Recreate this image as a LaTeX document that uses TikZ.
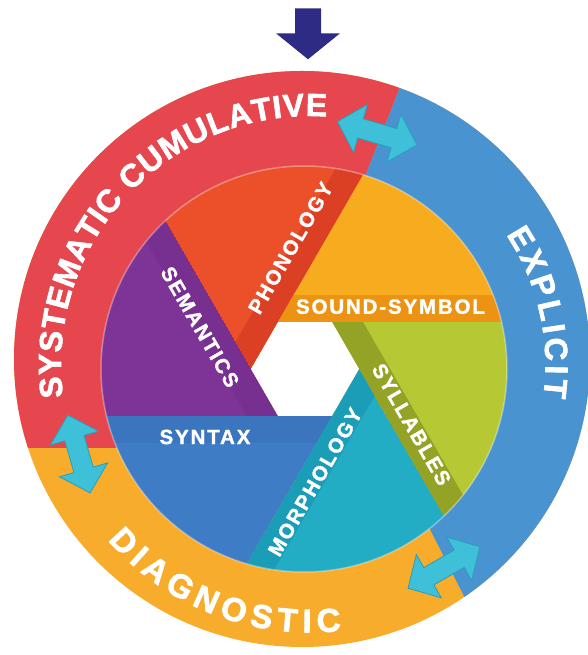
\documentclass[tikz,border=0pt]{standalone}
\usepackage{fontspec}
\newfontfamily\lblfamily{Liberation Sans Bold}[LetterSpace=9, FakeBold=1.5]
\newfontfamily\ringfamily{Liberation Sans Bold}[FakeBold=2]
\usetikzlibrary{calc,decorations.text}
\definecolor{ringred}{HTML}{E6474F}
\definecolor{ringblue}{HTML}{4A93D1}
\definecolor{ringorange}{HTML}{F8AC2C}
\definecolor{phon}{HTML}{EC502B}
\definecolor{phonD}{HTML}{DC4024}
\definecolor{sound}{HTML}{F7AC1F}
\definecolor{soundD}{HTML}{EC9313}
\definecolor{syll}{HTML}{B6C935}
\definecolor{syllD}{HTML}{94A326}
\definecolor{morph}{HTML}{22ADC5}
\definecolor{morphD}{HTML}{1C9DB7}
\definecolor{synt}{HTML}{3E7CC5}
\definecolor{syntD}{HTML}{3A75BD}
\definecolor{sem}{HTML}{7D3496}
\definecolor{semD}{HTML}{772F90}
\definecolor{navy}{HTML}{2D2B84}
\definecolor{cyanarr}{HTML}{3EC0D8}
\definecolor{cyanedge}{HTML}{2A9DBA}
\newcommand\ringSC{\ringfamily\fontsize{32}{32}\selectfont}
\newcommand\ringEX{\ringfamily\fontsize{32}{32}\selectfont}
\newcommand\ringDG{\ringfamily\fontsize{33}{33}\selectfont}
% #1 A, #2 B, #3 ray angle at A, #4 edge direction A->B, #5 outward normal, #6 colour, #7 band colour
\newcommand{\apblade}[7]{%
  \begin{scope}
    \clip (#1) -- (#2) -- ($(#2)+(#4:400)$) -- ($(#1)+(#3:400)$) -- cycle;
    \fill[#6] (#1) -- (#2) -- ($(#2)+(#4:400)$) -- ($(#1)+(#3:400)$) -- cycle;
    \fill[#7] ($(#1)+(#4:-100)$) -- ($(#2)+(#4:400)$) -- ($(#2)+(#4:400)+(#5:27)$) -- ($(#1)+(#4:-100)+(#5:27)$) -- cycle;
  \end{scope}}
\tikzset{
  lbl/.style={text=white, font=\lblfamily\fontsize{20.5}{20.5}\selectfont, inner sep=0pt},
  ringtext/.style={decorate, decoration={text along path, text color=white, text align=fit to path, text={#1}}},
  pics/dblarr/.style={code={
    \fill[cyanarr, draw=cyanedge, line width=0.8]
      (-#1,0) -- (-#1+24,25) -- (-#1+24,10) -- (#1-24,10) -- (#1-24,25) -- (#1,0)
      -- (#1-24,-25) -- (#1-24,-10) -- (-#1+24,-10) -- (-#1+24,-25) -- cycle;
  }}
}
\begin{document}
\begin{tikzpicture}[x=1pt,y=1pt]
\useasboundingbox (0,0) rectangle (588,655);
\fill[white] (0,0) rectangle (588,655);
\clip (0,0) rectangle (588,655);
\coordinate (OC) at (302,296);
\coordinate (IC) at (304,286);
\coordinate (HC) at (305,286);
\coordinate (TC) at (310,290);
% outer ring
\fill[ringorange] (OC) circle[radius=288];
\begin{scope}
  \clip (OC) circle[radius=288];
  \fill[ringred] (338,409) -- (421,622) -- (421,800) -- (-100,800) -- (-100,207) -- (130,207) -- cycle;
  \fill[ringblue] (338,409) -- (421,622) -- (700,800) -- (700,-100) -- (497,-6) -- (408,169) -- cycle;
\end{scope}
% hexagon
\coordinate (hR)  at ($(HC)+(0:54)$);
\coordinate (hTR) at ($(HC)+(60:54)$);
\coordinate (hTL) at ($(HC)+(120:54)$);
\coordinate (hL)  at ($(HC)+(180:54)$);
\coordinate (hBL) at ($(HC)+(240:54)$);
\coordinate (hBR) at ($(HC)+(300:54)$);
% aperture blades
\begin{scope}
  \clip (IC) circle[radius=203];
  \apblade{hL}{hTL}{120}{60}{150}{phon}{phonD}
  \apblade{hTL}{hTR}{60}{0}{90}{sound}{soundD}
  \apblade{hTR}{hR}{0}{-60}{30}{syll}{syllD}
  \apblade{hR}{hBR}{-60}{-120}{-30}{morph}{morphD}
  \apblade{hBR}{hBL}{-120}{180}{-90}{synt}{syntD}
  \apblade{hBL}{hL}{180}{120}{210}{sem}{semD}
  \fill[white] (hR) -- (hTR) -- (hTL) -- (hL) -- (hBL) -- (hBR) -- cycle;
\end{scope}
\draw[white, opacity=0.35, line width=1.5] (IC) circle[radius=203];
% blade labels
\node[lbl, rotate=60]  (phonology) at (290.5,407) {PHONOLOGY};
\node[lbl]             (soundsym)  at (390.5,348.3) {SOUND-SYMBOL};
\node[lbl, rotate=-60] (syllables) at (411.5,230.5) {SYLLABLES};
\node[lbl, rotate=60]  (morphology) at (315,173) {MORPHOLOGY};
\node[lbl]             (syntax)    at (205,218) {SYNTAX};
\node[lbl, rotate=-60] (semantics) at (200,328) {SEMANTICS};
% ring texts
\path[ringtext={|\ringSC|SYSTEMATIC CUMULATIVE}] ($(TC)+(187.4:249)$) arc[start angle=187.4, end angle=86.1, radius=249];
\path[ringtext={|\ringEX|EXPLICIT}] ($(TC)+(33.6:235.5)$) arc[start angle=33.6, end angle=-7.9, radius=235.5];
\path[ringtext={|\ringDG|DIAGNOSTIC}] ($(TC)+(220.9:267.5)$) arc[start angle=220.9, end angle=276.7, radius=267.5];
% cyan double arrows
\pic[rotate=-16.3] at (377.2,521.7) {dblarr=41.4};
\pic[rotate=-74] at (79,201) {dblarr=40.5};
\pic[rotate=30] at (444,87.5) {dblarr=41.5};
% navy arrow
\fill[navy] (295,646.7) -- (321,646.7) -- (321,621.7) -- (340,621.7) -- (308,595.7) -- (276,621.7) -- (295,621.7) -- cycle;
\end{tikzpicture}
\end{document}
